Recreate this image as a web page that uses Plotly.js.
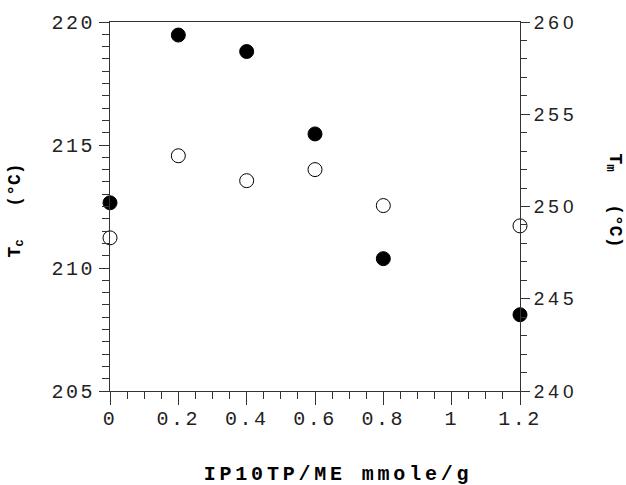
<!DOCTYPE html>
<html>
<head>
<meta charset="utf-8">
<script src="https://cdn.plot.ly/plotly-3.0.1.min.js"></script>
<style>
  body { margin: 0; background: #fff; }
  #chart { width: 626px; height: 485px; }
  .xtick text, .ytick text { letter-spacing: 2.5px; }
  .y2tick text { letter-spacing: 4px; }
</style>
</head>
<body>
<div id="chart"></div>
<script>
// Data
const loading = [0, 0.2, 0.4, 0.6, 0.8, 1.2];           // IP10TP/ME mmole/g
const Tc = [212.65, 219.47, 218.8, 215.45, 210.38, 208.1]; // filled circles, left axis
const Tm = [248.3, 252.75, 251.4, 252.0, 250.05, 248.95];  // open circles, right axis

const xTickVals = [0, 0.2, 0.4, 0.6, 0.8, 1, 1.2];
const xTickText = ['0', '0.2', '0.4', '0.6', '0.8', '1', '1.2'];

const axisColor = '#333';
const monoFont = 'Liberation Mono, Courier New, monospace';
const sansFont = 'Liberation Sans, Arial, sans-serif';

const traces = [
  {
    x: loading, y: Tc, type: 'scatter', mode: 'markers', name: 'Tc',
    marker: { symbol: 'circle', size: 14, color: '#000', line: { color: '#000', width: 1 } },
    cliponaxis: false, xaxis: 'x', yaxis: 'y'
  },
  {
    x: loading, y: Tm, type: 'scatter', mode: 'markers', name: 'Tm',
    marker: { symbol: 'circle', size: 14, color: '#fff', line: { color: '#000', width: 1 } },
    cliponaxis: false, xaxis: 'x', yaxis: 'y2'
  }
];

const layout = {
  width: 626, height: 485,
  margin: { l: 110, r: 106, t: 22, b: 94 },
  paper_bgcolor: '#fff', plot_bgcolor: '#fff',
  showlegend: false,
  xaxis: {
    range: [0, 1.2], showgrid: false, zeroline: false,
    showline: true, linecolor: axisColor, linewidth: 1, mirror: true,
    ticks: 'outside', ticklen: 13, tickwidth: 1, tickcolor: axisColor,
    tickvals: xTickVals, ticktext: xTickText,
    ticklabelstandoff: -4,
    minor: { dtick: 0.05, ticks: 'outside', ticklen: 7, tickwidth: 1, tickcolor: axisColor, showgrid: false },
    tickfont: { family: monoFont, size: 20, color: '#222' }
  },
  yaxis: {
    range: [205, 220], showgrid: false, zeroline: false,
    showline: true, linecolor: axisColor, linewidth: 1,
    ticks: 'outside', ticklen: 10, tickwidth: 1, tickcolor: axisColor,
    dtick: 5, tick0: 205,
    minor: { dtick: 0.5, ticks: 'outside', ticklen: 7, tickwidth: 1, tickcolor: axisColor, showgrid: false },
    tickfont: { family: monoFont, size: 20, color: '#222' }
  },
  yaxis2: {
    range: [240, 260], overlaying: 'y', side: 'right', anchor: 'x',
    showgrid: false, zeroline: false,
    showline: true, linecolor: axisColor, linewidth: 1,
    ticks: 'outside', ticklen: 9, tickwidth: 1, tickcolor: axisColor,
    dtick: 5, tick0: 240,
    minor: { dtick: 1, ticks: 'outside', ticklen: 6, tickwidth: 1, tickcolor: axisColor, showgrid: false },
    tickfont: { family: sansFont, size: 19, color: '#222' }
  },
  annotations: [
    {
      text: '<b>IP10TP/ME mmole/g</b>', xref: 'paper', yref: 'paper',
      x: 0.556, y: -0.225, xanchor: 'center', yanchor: 'middle', showarrow: false,
      font: { family: monoFont, size: 20, color: '#000' }
    },
    {
      text: '<b>T<sub>c</sub>\u00A0\u00A0\u00A0(°C)</b>', xref: 'paper', yref: 'paper',
      x: -0.228, y: 0.488, xanchor: 'center', yanchor: 'middle', showarrow: false, textangle: -90,
      font: { family: monoFont, size: 18, color: '#000' }
    },
    {
      text: '<b>T<sub>m</sub>\u00A0\u00A0\u00A0(°C)</b>', xref: 'paper', yref: 'paper',
      x: 1.228, y: 0.515, xanchor: 'center', yanchor: 'middle', showarrow: false, textangle: 90,
      font: { family: monoFont, size: 18, color: '#000' }
    }
  ]
};

Plotly.newPlot('chart', traces, layout, { displayModeBar: false, staticPlot: true }).then(function () {
  // widen letter spacing of the x-axis title to match the reference
  const anns = document.querySelectorAll('.annotation-text-g text');
  if (anns.length) anns[0].style.letterSpacing = '3.8px';
});
</script>
</body>
</html>
